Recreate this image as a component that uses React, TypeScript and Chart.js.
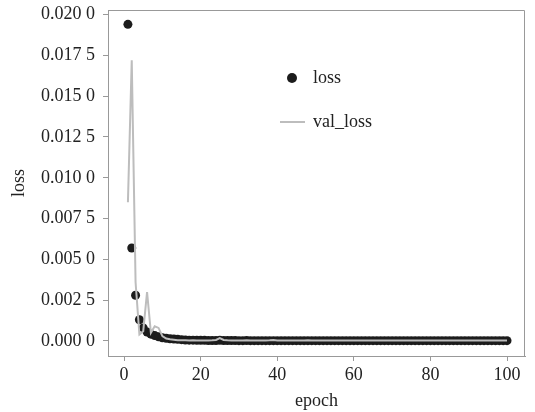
import React, { useEffect, useRef } from "react";
import { Chart, registerables } from "chart.js";
Chart.register(...registerables);

const epochs = [
  1, 2, 3, 4, 5, 6, 7, 8, 9, 10, 11, 12, 13, 14, 15, 16, 17, 18, 19, 20,
  21, 22, 23, 24, 25, 26, 27, 28, 29, 30, 31, 32, 33, 34, 35, 36, 37, 38, 39, 40,
  41, 42, 43, 44, 45, 46, 47, 48, 49, 50, 51, 52, 53, 54, 55, 56, 57, 58, 59, 60,
  61, 62, 63, 64, 65, 66, 67, 68, 69, 70, 71, 72, 73, 74, 75, 76, 77, 78, 79, 80,
  81, 82, 83, 84, 85, 86, 87, 88, 89, 90, 91, 92, 93, 94, 95, 96, 97, 98, 99, 100,
];

const loss = [
  0.0194, 0.0057, 0.0028, 0.0013, 0.0008, 0.00055, 0.00042, 0.00033, 0.00026, 0.0002,
  0.00017, 0.00014, 0.00012, 0.0001, 0.00008, 0.00006, 0.00005, 0.00005, 0.00004, 0.00004,
  0.00004, 0.00003, 0.00003, 0.00003, 0.00004, 0.00003, 0.00003, 0.00003, 0.00003, 0.00002,
  0.00002, 0.00003, 0.00002, 0.00002, 0.00002, 0.00002, 0.00002, 0.00002, 0.00002, 0.00002,
  0.00002, 0.00002, 0.00002, 0.00002, 0.00002, 0.00002, 0.00002, 0.00002, 0.00002, 0.00002,
  0.00002, 0.00002, 0.00002, 0.00002, 0.00002, 0.00002, 0.00002, 0.00002, 0.00002, 0.00002,
  0.00002, 0.00002, 0.00002, 0.00002, 0.00002, 0.00002, 0.00002, 0.00002, 0.00002, 0.00002,
  0.00002, 0.00002, 0.00002, 0.00002, 0.00002, 0.00002, 0.00002, 0.00002, 0.00002, 0.00002,
  0.00002, 0.00002, 0.00002, 0.00002, 0.00002, 0.00002, 0.00002, 0.00002, 0.00002, 0.00002,
  0.00002, 0.00002, 0.00002, 0.00002, 0.00002, 0.00002, 0.00002, 0.00002, 0.00002, 0.00002,
];

const valLoss = [
  0.0085, 0.0172, 0.0036, 0.0004, 0.0006, 0.003, 0.0005, 0.0009, 0.0008, 0.0003,
  0.00015, 0.0001, 0.00008, 0.00005, 0.00004, 0.00004, 0.00003, 0.00004, 0.00003, 0.00003,
  0.00003, 0.00003, 0.00004, 0.00006, 0.00018, 0.00006, 0.00004, 0.00003, 0.00003, 0.00003,
  0.00003, 0.00004, 0.00003, 0.00003, 0.00003, 0.00003, 0.00003, 0.00004, 0.00006, 0.00003,
  0.00003, 0.00003, 0.00003, 0.00003, 0.00003, 0.00003, 0.00003, 0.00004, 0.00003, 0.00003,
  0.00003, 0.00003, 0.00003, 0.00003, 0.00003, 0.00003, 0.00003, 0.00003, 0.00003, 0.00003,
  0.00003, 0.00003, 0.00003, 0.00003, 0.00003, 0.00003, 0.00003, 0.00003, 0.00003, 0.00003,
  0.00003, 0.00003, 0.00003, 0.00003, 0.00003, 0.00003, 0.00003, 0.00003, 0.00003, 0.00003,
  0.00003, 0.00003, 0.00003, 0.00003, 0.00003, 0.00003, 0.00003, 0.00003, 0.00003, 0.00003,
  0.00003, 0.00003, 0.00003, 0.00003, 0.00003, 0.00003, 0.00003, 0.00003, 0.00003, 0.00003,
];

const xTicks = [0, 20, 40, 60, 80, 100];
const yTicks = [0, 0.0025, 0.005, 0.0075, 0.01, 0.0125, 0.015, 0.0175, 0.02];
const seriesNames = ["loss", "val_loss"];
const xTitle = "epoch";
const yTitle = "loss";

const FONT = "'Liberation Serif', 'Times New Roman', serif";
const DOT = "#1c1c1c";
const LINE = "#bdbdbd";
const AXIS = "#999999";

const fmtY = (v: number) => {
  const s = v.toFixed(4);
  return s.slice(0, 5) + " " + s.slice(5);
};

const boxAndLegend = {
  id: "boxAndLegend",
  afterDraw(chart: any) {
    const { ctx, chartArea } = chart;
    const { left, right, top, bottom } = chartArea;
    ctx.save();
    ctx.strokeStyle = AXIS;
    ctx.lineWidth = 1;
    ctx.beginPath();
    ctx.moveTo(left, top + 0.5);
    ctx.lineTo(right - 0.5, top + 0.5);
    ctx.lineTo(right - 0.5, bottom);
    ctx.stroke();

    // legend
    const lx = left + 184;
    const ly1 = top + 68;
    const ly2 = top + 112;
    ctx.fillStyle = DOT;
    ctx.beginPath();
    ctx.arc(lx, ly1, 5, 0, Math.PI * 2);
    ctx.fill();
    ctx.strokeStyle = LINE;
    ctx.lineWidth = 2;
    ctx.beginPath();
    ctx.moveTo(lx - 12, ly2);
    ctx.lineTo(lx + 13, ly2);
    ctx.stroke();
    ctx.fillStyle = "#222";
    ctx.font = `18px ${FONT}`;
    ctx.textBaseline = "middle";
    ctx.textAlign = "left";
    ctx.fillText(seriesNames[0], lx + 21, ly1);
    ctx.fillText(seriesNames[1], lx + 21, ly2);
    ctx.restore();
  },
};

export default function App() {
  const ref = useRef<HTMLCanvasElement>(null);
  useEffect(() => {
    if (!ref.current) return;
    const chart = new Chart(ref.current, {
      type: "scatter",
      data: {
        datasets: [
          {
            label: seriesNames[0],
            data: epochs.map((e, i) => ({ x: e, y: loss[i] })),
            backgroundColor: DOT,
            borderColor: DOT,
            pointRadius: 4.5,
            pointBorderWidth: 0,
            showLine: false,
            order: 2,
          },
          {
            label: seriesNames[1],
            type: "line",
            data: epochs.map((e, i) => ({ x: e, y: valLoss[i] })),
            borderColor: LINE,
            borderWidth: 2,
            pointRadius: 0,
            fill: false,
            tension: 0,
            order: 1,
          } as any,
        ],
      },
      plugins: [boxAndLegend],
      options: {
        animation: false,
        responsive: true,
        maintainAspectRatio: false,
        layout: { padding: { top: 10, right: 10, left: 0, bottom: 0 } },
        plugins: { legend: { display: false }, tooltip: { enabled: false } },
        scales: {
          x: {
            type: "linear",
            min: -4.2,
            max: 104.7,
            afterBuildTicks: (s: any) => {
              s.ticks = xTicks.map((v) => ({ value: v }));
            },
            afterFit: (s: any) => {
              s.height = 56;
              s.paddingLeft = 0;
              s.paddingRight = 0;
            },
            grid: { display: true, drawOnChartArea: false, drawTicks: true, tickLength: 5, color: AXIS },
            border: { display: true, color: AXIS },
            ticks: { color: "#222", font: { family: FONT, size: 18 }, padding: 3, maxRotation: 0 },
            title: { display: true, text: xTitle, color: "#222", font: { family: FONT, size: 18 }, padding: { top: 0, bottom: 0 } },
          },
          y: {
            type: "linear",
            min: -0.00092,
            max: 0.02028,
            afterBuildTicks: (s: any) => {
              s.ticks = yTicks.map((v) => ({ value: v }));
            },
            afterFit: (s: any) => {
              s.width = 108;
              s.paddingTop = 0;
              s.paddingBottom = 0;
            },
            grid: { display: true, drawOnChartArea: false, drawTicks: true, tickLength: 5, color: AXIS },
            border: { display: true, color: AXIS },
            ticks: { color: "#222", font: { family: FONT, size: 18 }, padding: 8, callback: (v: any) => fmtY(Number(v)) },
            title: { display: true, text: yTitle, color: "#222", font: { family: FONT, size: 18 }, padding: { top: 8, bottom: 0 } },
          },
        },
      },
    });
    return () => chart.destroy();
  }, []);
  return (
    <div style={{ position: "absolute", left: 0, top: 0, width: 535, height: 412, background: "#fff" }}>
      <canvas ref={ref} />
    </div>
  );
}
